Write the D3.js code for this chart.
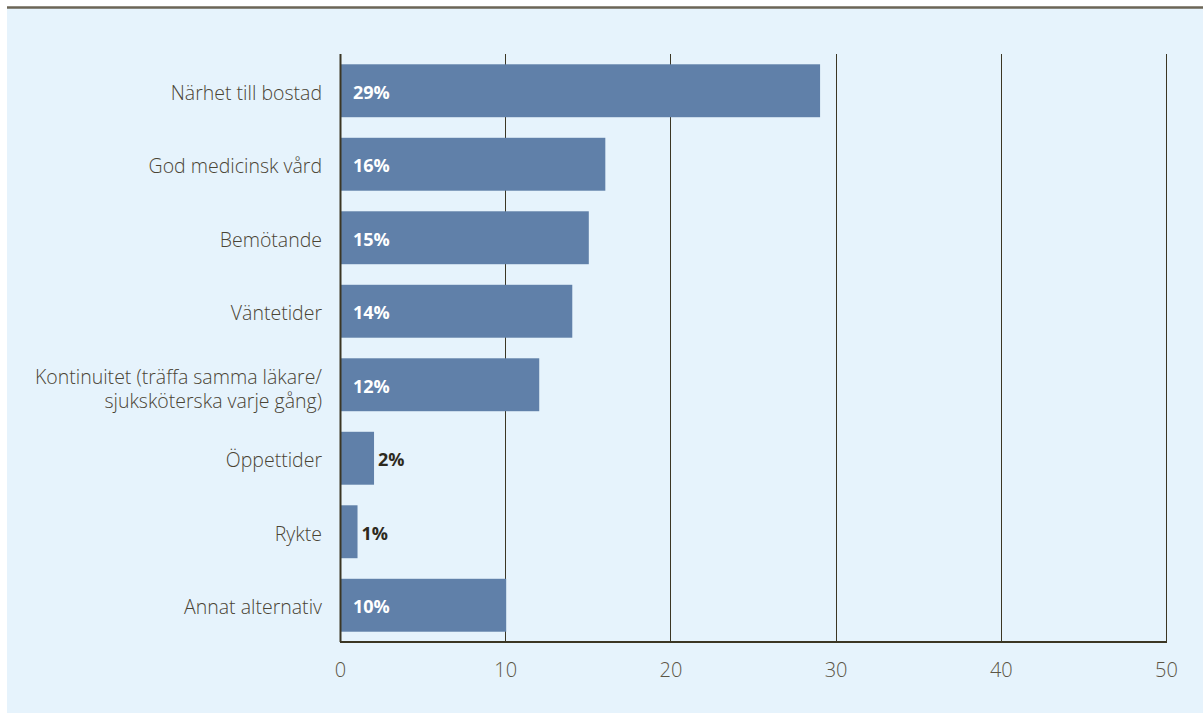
<!DOCTYPE html>
<html>
<head>
<meta charset="utf-8">
<script src="https://cdn.jsdelivr.net/npm/d3@7"></script>
<style>
  body { margin: 0; background: #fff; }
  svg { display: block; font-family: "Open Sans", sans-serif; }
</style>
</head>
<body>
<div id="chart"></div>
<script>
// data
const categories = [
    ['Närhet till bostad'],
    ['God medicinsk vård'],
    ['Bemötande'],
    ['Väntetider'],
    ['Kontinuitet (träffa samma läkare/', 'sjuksköterska varje gång)'],
    ['Öppettider'],
    ['Rykte'],
    ['Annat alternativ'],
];
const values = [29, 16, 15, 14, 12, 2, 1, 10];
const xTicks = [0, 10, 20, 30, 40, 50];

const width = 1203;
const height = 713;
const margin = { top: 54, right: 37, bottom: 71, left: 340 };
const innerW = width - margin.left - margin.right;
const innerH = height - margin.top - margin.bottom;

const svg = d3
    .select('#chart')
    .append('svg')
    .attr('width', width)
    .attr('height', height);

// background panel + top rule
svg.append('rect')
    .attr('x', 7).attr('y', 8)
    .attr('width', width - 7).attr('height', height - 8)
    .attr('fill', '#e6f3fc');

svg.append('line')
    .attr('x1', 7).attr('x2', width)
    .attr('y1', 7.5).attr('y2', 7.5)
    .attr('stroke', '#6b6556')
    .attr('stroke-width', 2.5);

const g = svg.append('g')
    .attr('transform', `translate(${margin.left},${margin.top})`);

const x = d3.scaleLinear().domain([0, 50]).range([0, innerW]);
const y = d3.scaleBand()
    .domain(d3.range(values.length))
    .range([0, innerH])
    .paddingInner(0.28)
    .paddingOuter(0.14);

// gridlines
g.selectAll('.grid')
    .data(xTicks)
    .enter()
    .append('line')
    .attr('class', 'grid')
    .attr('x1', (d) => Math.round(x(d)) + 0.5)
    .attr('x2', (d) => Math.round(x(d)) + 0.5)
    .attr('y1', 0)
    .attr('y2', innerH)
    .attr('stroke', '#3b3624')
    .attr('stroke-width', 1);

// bars
g.selectAll('.bar')
    .data(values)
    .enter()
    .append('rect')
    .attr('class', 'bar')
    .attr('x', x(0) + 1)
    .attr('y', (d, i) => y(i))
    .attr('width', (d) => x(d) - x(0))
    .attr('height', y.bandwidth())
    .attr('fill', '#6080a9');

// axes lines
g.append('line')
    .attr('x1', 0.5).attr('x2', 0.5)
    .attr('y1', 0).attr('y2', innerH)
    .attr('stroke', '#3b3624').attr('stroke-width', 2);

g.append('line')
    .attr('x1', 0).attr('x2', Math.round(x(50)) + 1)
    .attr('y1', innerH).attr('y2', innerH)
    .attr('stroke', '#3b3624').attr('stroke-width', 2);

// x tick labels
const xAxis = g.append('g')
    .attr('transform', `translate(0,${innerH})`)
    .call(d3.axisBottom(x).tickValues(xTicks).tickSize(0).tickPadding(21));
xAxis.select('.domain').remove();
xAxis.selectAll('text')
    .attr('font-family', '"Open Sans", sans-serif')
    .attr('font-size', 20)
    .attr('font-weight', 300)
    .attr('fill', '#5c5545');

// category labels
const labels = g.selectAll('.cat')
    .data(categories)
    .enter()
    .append('text')
    .attr('class', 'cat')
    .attr('x', -18)
    .attr('y', (d, i) => y(i) + y.bandwidth() / 2)
    .attr('text-anchor', 'end')
    .attr('font-size', 19.5)
    .attr('font-weight', 300)
    .attr('fill', '#4a4434');

labels.selectAll('tspan')
    .data((d) => d.map((t, k) => ({ t, k, n: d.length })))
    .enter()
    .append('tspan')
    .attr('x', -18)
    .attr('dy', (d) => d.k === 0 ? (0.45 - (d.n - 1) * 0.5) + 'em' : '1.26em')
    .text((d) => d.t);

// value labels
g.selectAll('.val')
    .data(values)
    .enter()
    .append('text')
    .attr('class', 'val')
    .attr('x', (d) => d >= 5 ? 13 : x(d) + 5)
    .attr('y', (d, i) => y(i) + y.bandwidth() / 2)
    .attr('dy', '0.45em')
    .attr('font-size', 18)
    .attr('font-weight', 700)
    .attr('fill', (d) => d >= 5 ? '#ffffff' : '#2e2a1e')
    .text((d) => d + '%');
</script>
</body>
</html>
